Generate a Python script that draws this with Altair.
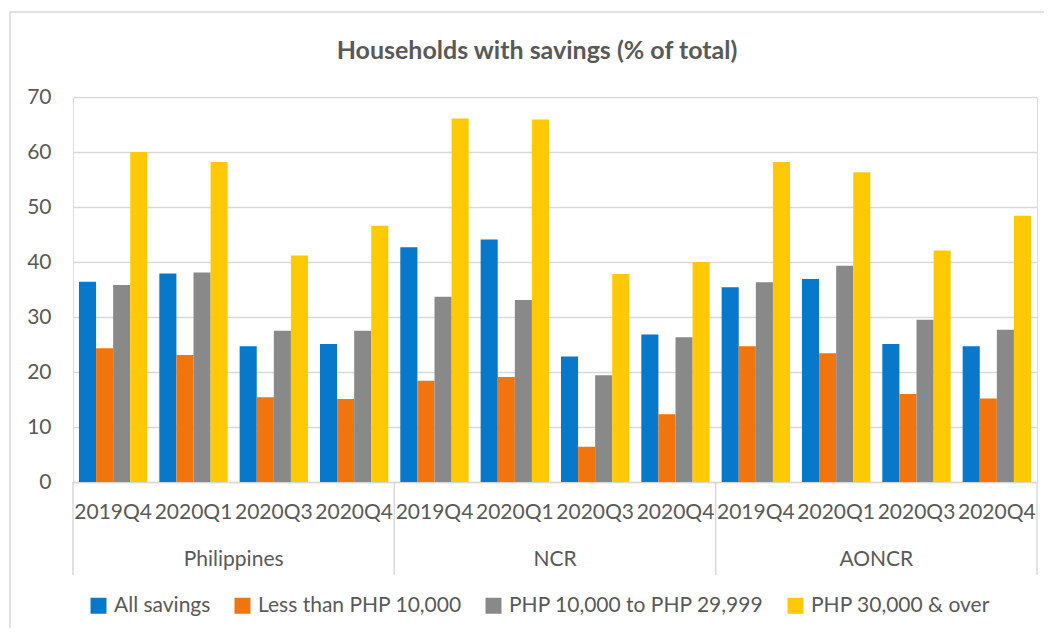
import altair as alt
import pandas as pd

regions = ["Philippines", "NCR", "AONCR"]
quarters = ["2019Q4", "2020Q1", "2020Q3", "2020Q4"]
series = ["All savings", "Less than PHP 10,000", "PHP 10,000 to PHP 29,999", "PHP 30,000 & over"]
colors = ["#0878CA", "#F0750F", "#898989", "#FFC906"]
chart_title = ["Households with savings (% of total)"]

all_savings = [36.4, 37.9, 24.7, 25.1, 42.7, 44.1, 22.8, 26.8, 35.4, 36.9, 25.1, 24.7]
less_10k = [24.3, 23.1, 15.4, 15.1, 18.4, 19.1, 6.4, 12.3, 24.7, 23.4, 16.0, 15.2]
php_10k_30k = [35.8, 38.1, 27.5, 27.5, 33.7, 33.1, 19.4, 26.3, 36.3, 39.3, 29.5, 27.7]
php_30k_over = [60.0, 58.2, 41.2, 46.6, 66.1, 65.9, 37.8, 40.0, 58.2, 56.3, 42.1, 48.4]

values_by_series = [all_savings, less_10k, php_10k_30k, php_30k_over]
keys = [f"{r}|{q}" for r in regions for q in quarters]

rows = []
for s, vals in zip(series, values_by_series):
    for k, v in zip(keys, vals):
        rows.append({"key": k, "series": s, "value": v})
df = pd.DataFrame(rows)

FONT = "Lato"
TXT = "#595959"
GRID = "#d9d9d9"
W, H = 964, 385

xscale = alt.Scale(domain=keys, paddingInner=0, paddingOuter=0)
xaxis = alt.Axis(title=None, labelExpr="split(datum.value, '|')[1]", labelAngle=0,
                 ticks=False, domainColor=GRID, domainWidth=1.5, labelFont=FONT,
                 labelFontSize=21, labelColor=TXT, labelPadding=19,
                 labelOverlap=False, labelBound=False, labelFlush=False, grid=False)

bars = alt.Chart(df).mark_bar().encode(
    x=alt.X("key:N", scale=xscale, sort=keys, axis=xaxis),
    xOffset=alt.XOffset("series:N", sort=series,
                        scale=alt.Scale(domain=series, paddingInner=0, paddingOuter=0.35)),
    y=alt.Y("value:Q", scale=alt.Scale(domain=[0, 70], nice=False),
            axis=alt.Axis(title=None, values=list(range(0, 71, 10)), domain=False, ticks=False,
                          gridColor=GRID, gridWidth=1.5, labelFont=FONT, labelFontSize=21,
                          labelColor=TXT, labelPadding=22)),
    color=alt.Color("series:N", sort=series, scale=alt.Scale(domain=series, range=colors),
                    legend=alt.Legend(title=None, orient="none", direction="horizontal",
                                      legendX=15, legendY=498, symbolType="square",
                                      symbolSize=256, symbolStrokeWidth=0, labelFont=FONT,
                                      labelFontSize=21, labelColor=TXT, columnPadding=21,
                                      labelOffset=5, labelLimit=400)),
)

region_df = pd.DataFrame({"region": regions, "key": [f"{r}|2020Q3" for r in regions]})
region_labels = alt.Chart(region_df).mark_text(
    font=FONT, fontSize=21, color=TXT, baseline="middle", align="center"
).encode(
    x=alt.X("key:N", scale=xscale, sort=keys, bandPosition=0, axis=xaxis),
    y=alt.value(463),
    text="region:N",
)

sep_df = pd.DataFrame({"key": [f"{r}|2019Q4" for r in regions]})
separators = alt.Chart(sep_df).mark_rule(color=GRID, strokeWidth=1.5).encode(
    x=alt.X("key:N", scale=xscale, sort=keys, bandPosition=0, axis=xaxis),
    y=alt.value(H),
    y2=alt.value(478),
)
end_df = pd.DataFrame({"key": [keys[-1]]})
end_sep = alt.Chart(end_df).mark_rule(color=GRID, strokeWidth=1.5).encode(
    x=alt.X("key:N", scale=xscale, sort=keys, bandPosition=1, axis=xaxis),
    y=alt.value(H),
    y2=alt.value(478),
)

title_df = pd.DataFrame({"t": chart_title})
title = alt.Chart(title_df).mark_text(
    font=FONT, fontSize=25, fontWeight="bold", color=TXT, align="center", baseline="middle"
).encode(x=alt.value(W / 2 - 18), y=alt.value(-46), text="t:N")

frame_top = alt.Chart(end_df).mark_rule(color=GRID, strokeWidth=1.5).encode(
    x=alt.value(-63), x2=alt.value(990), y=alt.value(-85)
)
frame_left = alt.Chart(end_df).mark_rule(color=GRID, strokeWidth=1.5).encode(
    x=alt.value(-63), y=alt.value(-85), y2=alt.value(560)
)

chart = alt.layer(frame_top, frame_left, title, bars, separators, end_sep, region_labels).properties(
    width=W,
    height=H,
    autosize=alt.AutoSizeParams(type="none"),
    padding={"left": 65, "top": 89, "right": 7, "bottom": 146},
).configure_view(stroke=None).configure(background="white")

chart.save("out.html", embed_options={"renderer": "svg", "actions": False})
